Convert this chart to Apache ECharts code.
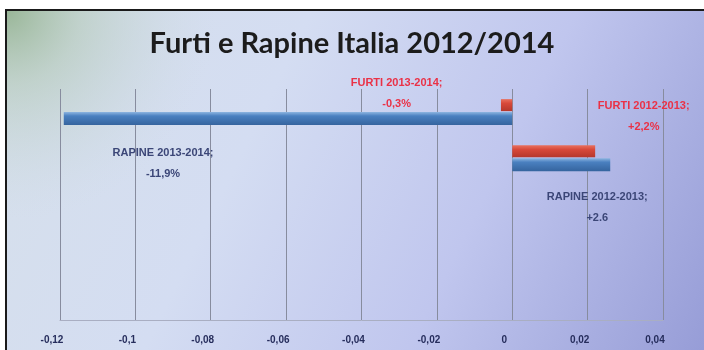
<!DOCTYPE html>
<html>
<head>
<meta charset="utf-8">
<script src="https://cdn.jsdelivr.net/npm/echarts@6/dist/echarts.min.js"></script>
<style>
  html, body { margin: 0; padding: 0; background: #ffffff; }
  #chart { width: 704px; height: 350px; }
</style>
</head>
<body>
<div id="chart"></div>
<script>
// Periods (top to bottom) and year-on-year change, as fractions
const periods = ['2013-2014', '2012-2013'];
const furti = [-0.003, 0.022];
const rapine = [-0.119, 0.026];
const xTicks = { min: -0.12, max: 0.04, step: 0.02 };

const comma = (v) => String(v).replace('.', ',');
const signed = (v, digits, sep, unit) => {
  const s = (v > 0 ? '+' : v < 0 ? '-' : '') + (Math.abs(v) * 100).toFixed(digits);
  return (sep === ',' ? s.replace('.', ',') : s) + unit;
};

// Label placement around each bar's centre
const furtiLabel = [
  { offset: [-110, -12], text: (v) => 'FURTI ' + periods[0] + ';\n' + signed(v, 1, ',', '%') },
  { offset: [90, -35], text: (v) => 'FURTI ' + periods[1] + ';\n' + signed(v, 1, ',', '%') }
];
const rapineLabel = [
  { offset: [-125, 45], text: (v) => 'RAPINE ' + periods[0] + ';\n' + signed(v, 1, ',', '%') },
  { offset: [36, 43], text: (v) => 'RAPINE ' + periods[1] + ';\n' + signed(v, 1, '.', '') }
];

const redFill = new echarts.graphic.LinearGradient(0, 0, 0, 1, [
  { offset: 0, color: '#e8705e' }, { offset: 0.35, color: '#d8493a' }, { offset: 1, color: '#b5372c' }
]);
const blueFill = new echarts.graphic.LinearGradient(0, 0, 0, 1, [
  { offset: 0, color: '#8cb4e0' }, { offset: 0.3, color: '#4a80c0' }, { offset: 1, color: '#35649e' }
]);

function buildData(values, labels, color) {
  return values.map((v, i) => ({
    value: v,
    label: {
      show: true,
      position: 'inside',
      offset: labels[i].offset,
      formatter: () => labels[i].text(v),
      color: color,
      fontFamily: 'Liberation Sans',
      fontWeight: 'bold',
      fontSize: 11,
      lineHeight: 21,
      align: 'center'
    }
  }));
}

const chart = echarts.init(document.getElementById('chart'), null, { renderer: 'canvas' });

chart.setOption({
  animation: false,
  graphic: [
    {
      type: 'rect', z: -10, silent: true,
      shape: { x: 6, y: 10, width: 704, height: 350 },
      style: {
        fill: new echarts.graphic.LinearGradient(0, 0, 1, 1, [
          { offset: 0, color: '#d6e0ea' },
          { offset: 0.35, color: '#d4ddf2' },
          { offset: 0.65, color: '#c0c6ee' },
          { offset: 1, color: '#959bd6' }
        ]),
        stroke: '#1a1a1a', lineWidth: 2
      }
    },
    {
      type: 'rect', z: -9, silent: true,
      shape: { x: 7, y: 11, width: 360, height: 280 },
      style: {
        fill: new echarts.graphic.RadialGradient(0, 0, 0.75, [
          { offset: 0, color: 'rgba(150,180,148,0.95)' },
          { offset: 0.35, color: 'rgba(172,196,172,0.5)' },
          { offset: 1, color: 'rgba(205,218,225,0)' }
        ])
      }
    }
  ],
  title: {
    text: 'Furti e Rapine Italia 2012/2014',
    left: 'center',
    top: 24,
    textStyle: { fontFamily: 'Lato', fontWeight: 'bold', fontSize: 29, color: '#1c1c1c' }
  },
  grid: { left: 60, right: 41, top: 89, bottom: 30, containLabel: false },
  xAxis: {
    type: 'value',
    min: xTicks.min,
    max: xTicks.max,
    interval: xTicks.step,
    axisLine: { show: true, lineStyle: { color: '#a9aec2', width: 1 } },
    axisTick: { show: false },
    splitLine: { show: true, lineStyle: { color: '#878c9e', width: 1 } },
    axisLabel: {
      margin: 15,
      padding: [0, 16, 0, 0],
      color: '#262d5c',
      fontFamily: 'Liberation Sans',
      fontWeight: 'bold',
      fontSize: 10,
      formatter: (v) => comma(Math.round(v * 100) / 100)
    }
  },
  yAxis: {
    type: 'category',
    data: periods,
    inverse: true,
    max: 4,
    show: false
  },
  series: [
    {
      name: 'Furti',
      type: 'bar',
      barWidth: 12,
      barGap: '8%',
      itemStyle: { color: redFill },
      data: buildData(furti, furtiLabel, '#ea3146')
    },
    {
      name: 'Rapine',
      type: 'bar',
      barWidth: 13,
      barGap: '8%',
      itemStyle: { color: blueFill },
      data: buildData(rapine, rapineLabel, '#3b4677')
    }
  ]
});
</script>
</body>
</html>
